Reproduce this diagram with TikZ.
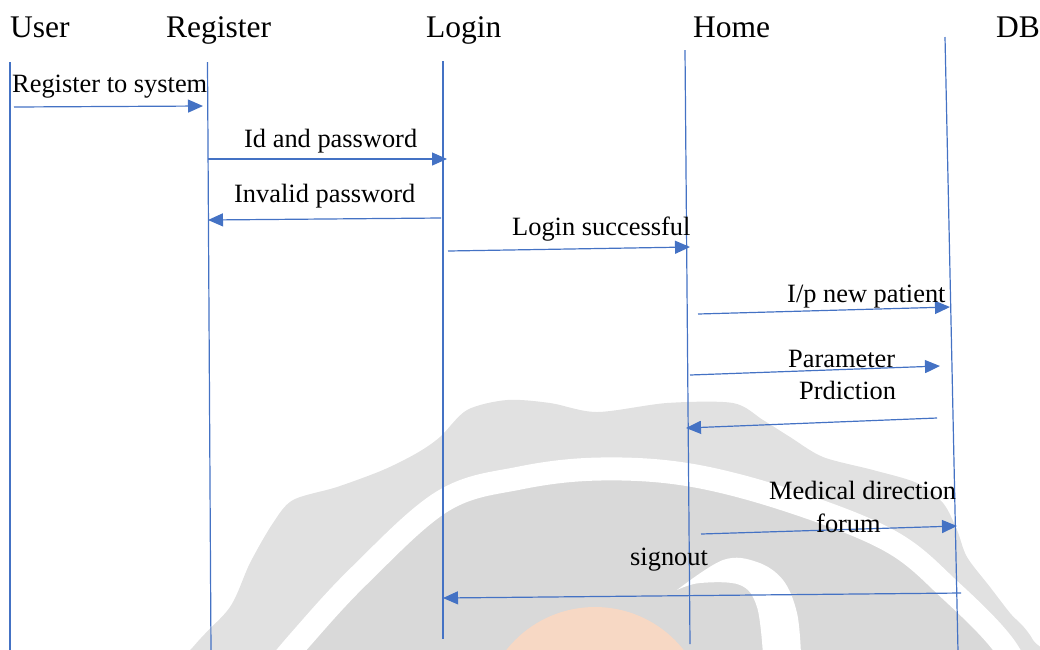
\documentclass[tikz,border=0pt]{standalone}
\usepackage{fontspec}
\IfFontExistsTF{LiberationSerif-Regular.ttf}
  {\newfontfamily\diagfont{LiberationSerif-Regular.ttf}}
  {\newfontfamily\diagfont{Latin Modern Roman}}
\usetikzlibrary{arrows.meta}

\definecolor{lifeblue}{RGB}{68,114,196}
\definecolor{wmouter}{RGB}{225,225,225}
\definecolor{wminner}{RGB}{217,217,217}
\definecolor{wmpeach}{RGB}{247,216,196}
\definecolor{wmlight}{RGB}{251,233,220}

\tikzset{
  header/.style={anchor=base west, inner sep=0pt, font=\diagfont\fontsize{31.5}{36}\selectfont},
  msglabel/.style={anchor=base west, inner sep=0pt, font=\diagfont\fontsize{26.4}{30}\selectfont},
  lifeline/.style={draw=lifeblue, line width=1.2pt},
  message/.style={draw=lifeblue, line width=1.2pt,
    -{Triangle[length=15pt,width=13pt]}},
}

\begin{document}
\begin{tikzpicture}[x=1pt,y=-1pt]
\useasboundingbox (0,0) rectangle (1040,649);

% faint seal in the background
\begin{scope}
  \clip (0,0) rectangle (1040,649);
  % outer toothed rim
  \fill[wmouter] plot[smooth cycle, tension=0.5] coordinates {
    (100,760) (193,647) (230,607) (250,563) (273,523) (293,500)
    (337,487) (383,470) (417,453) (440,437) (467,410) (507,400)
    (550,403) (597,412) (667,403) (733,403) (763,420) (790,437)
    (823,457) (873,470) (917,483) (943,503) (957,530) (967,557)
    (990,587) (1010,613) (1033,640) (1070,720) (600,900)};
  % inner disc below the ring
  \fill[wminner] plot[smooth, tension=0.6] coordinates {
    (250,700) (300,640) (360,575) (443,501) (520,478) (600,469)
    (690,475) (790,501) (890,541) (950,590) (1005,647) (1030,700)}
    -- (1030,760) -- (250,760) -- cycle;
  % white ring
  \draw[white, line width=23pt] plot[smooth, tension=0.6] coordinates {
    (250,700) (300,640) (360,575) (443,501) (520,478) (600,469)
    (690,475) (790,501) (890,541) (950,590) (1005,647) (1030,700)};
  % peach face
  \fill[wmpeach] (595,720) circle[radius=113pt];
  \fill[wmlight] (610,700) circle[radius=50pt];
  % white crescent
  \fill[white] plot[smooth, tension=0.6] coordinates {
    (677,590) (723,560) (757,562) (783,580) (797,613) (801,655)}
    -- plot[smooth, tension=0.6] coordinates {
    (763,655) (757,607) (740,585) (700,583) (677,590)} -- cycle;
\end{scope}

% actors
\node[header] (user) at (10,37) {User};
\node[header] (register) at (166,37) {Register};
\node[header] (login) at (426,37) {Login};
\node[header] (home) at (693,37) {Home};
\node[header] (db) at (996,37) {DB};

% lifelines
\coordinate (userT) at (10,62);     \coordinate (userB) at (10,652);
\coordinate (regT) at (207.5,62);   \coordinate (regB) at (211,652);
\coordinate (logT) at (443,61);     \coordinate (logB) at (443,639);
\coordinate (homeT) at (685,50);    \coordinate (homeB) at (690,644);
\coordinate (dbT) at (945,37);      \coordinate (dbB) at (958,652);
\draw[lifeline] (userT) -- (userB);
\draw[lifeline] (regT) -- (regB);
\draw[lifeline] (logT) -- (logB);
\draw[lifeline] (homeT) -- (homeB);
\draw[lifeline] (dbT) -- (dbB);

% message ends
\coordinate (m1a) at (14,107);  \coordinate (m1b) at (203,106);
\coordinate (m2a) at (208,159); \coordinate (m2b) at (447,159);
\coordinate (m3a) at (441,218); \coordinate (m3b) at (208,220);
\coordinate (m4a) at (448,251); \coordinate (m4b) at (690,247);
\coordinate (m5a) at (698,314); \coordinate (m5b) at (950,307);
\coordinate (m6a) at (690,375); \coordinate (m6b) at (940,366);
\coordinate (m7a) at (937,418); \coordinate (m7b) at (686,428);
\coordinate (m8a) at (701,534); \coordinate (m8b) at (957,526);
\coordinate (m9a) at (961,593); \coordinate (m9b) at (443,598);

% messages
\draw[message] (m1a) -- (m1b);
\draw[message] (m2a) -- (m2b);
\draw[message] (m3a) -- (m3b);
\draw[message] (m4a) -- (m4b);
\draw[message] (m5a) -- (m5b);
\draw[message] (m6a) -- (m6b);
\draw[message] (m7a) -- (m7b);
\draw[message] (m8a) -- (m8b);
\draw[message] (m9a) -- (m9b);

% message labels
\node[msglabel] (l1) at (12,92) {Register to system};
\node[msglabel] (l2) at (244,147) {Id and password};
\node[msglabel] (l3) at (234,202) {Invalid password};
\node[msglabel] (l4) at (512,235) {Login successful};
\node[msglabel] (l5) at (787,302) {I/p new patient};
\node[msglabel] (l6) at (788,367) {Parameter};
\node[msglabel] (l7) at (799,399) {Prdiction};
\node[msglabel] (l8) at (769,499) {Medical direction};
\node[msglabel] (l9) at (816,532) {forum};
\node[msglabel] (l10) at (630,565) {signout};
\end{tikzpicture}
\end{document}
